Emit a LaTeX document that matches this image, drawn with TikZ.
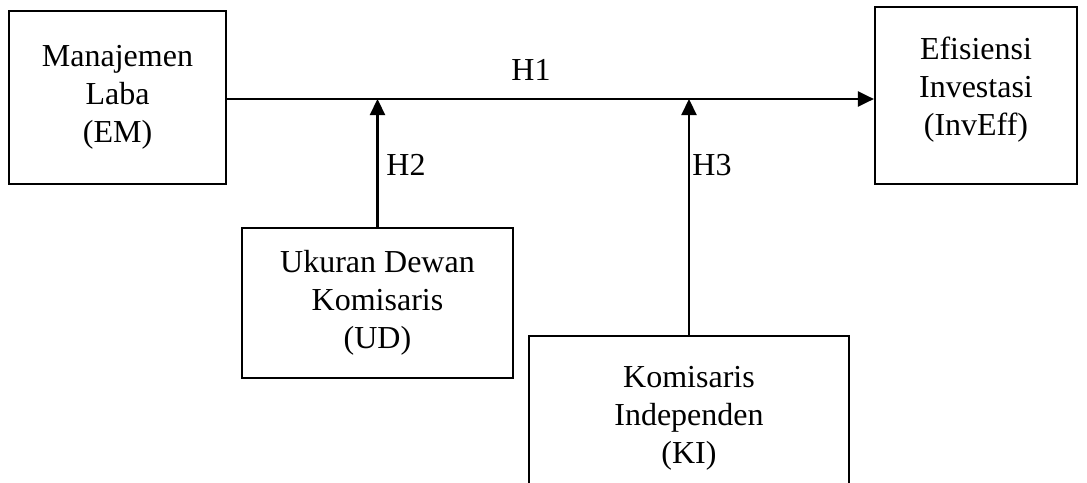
\documentclass[tikz,border=0pt]{standalone}
\usepackage{fontspec}
\setmainfont{Liberation Serif}
\usetikzlibrary{arrows.meta}

\tikzset{
  varbox/.style={draw, line width=2.2pt, inner sep=0pt, align=center},
  link/.style={line width=2.2pt, -{Triangle[length=16pt,width=15pt]}},
  hyp/.style={inner sep=0pt}
}

\begin{document}
\begin{tikzpicture}[x=1pt, y=-1pt, font=\fontsize{32}{38}\selectfont]
                   
                   \useasboundingbox (0,0) rectangle (1087,482);
                   
                   \node[varbox, minimum width=217pt, minimum height=173pt] (em) at (117.5,97.5) {Manajemen\\Laba\\(EM)};
                   \node[varbox, minimum width=202pt, minimum height=177pt] (ie) at (976,95.5) {Efisiensi\\Investasi\\(InvEff)\\[-20pt]\mbox{}};
                   \node[varbox, minimum width=271pt, minimum height=150pt] (ud) at (377.5,303) {Ukuran Dewan\\Komisaris\\(UD)};
                   \node[varbox, minimum width=320pt, minimum height=164pt] (ki) at (689,418) {Komisaris\\Independen\\(KI)};
                   
                   \coordinate (m2) at (ud.north |- 0,99);
                   \coordinate (m3) at (ki.north |- 0,99);
                   
                   \draw[link] (em.east |- 0,99) -- (ie.west |- 0,99);
                   \draw[link] (ud.north) -- (m2);
                   \draw[link] (ki.north) -- (m3);
                   
                   \node[hyp] (h1) at (531,70) {H1};
                   \node[hyp] (h2) at (406,165) {H2};
                   \node[hyp] (h3) at (712,165) {H3};
                       
                  \end{tikzpicture}
\end{document}
